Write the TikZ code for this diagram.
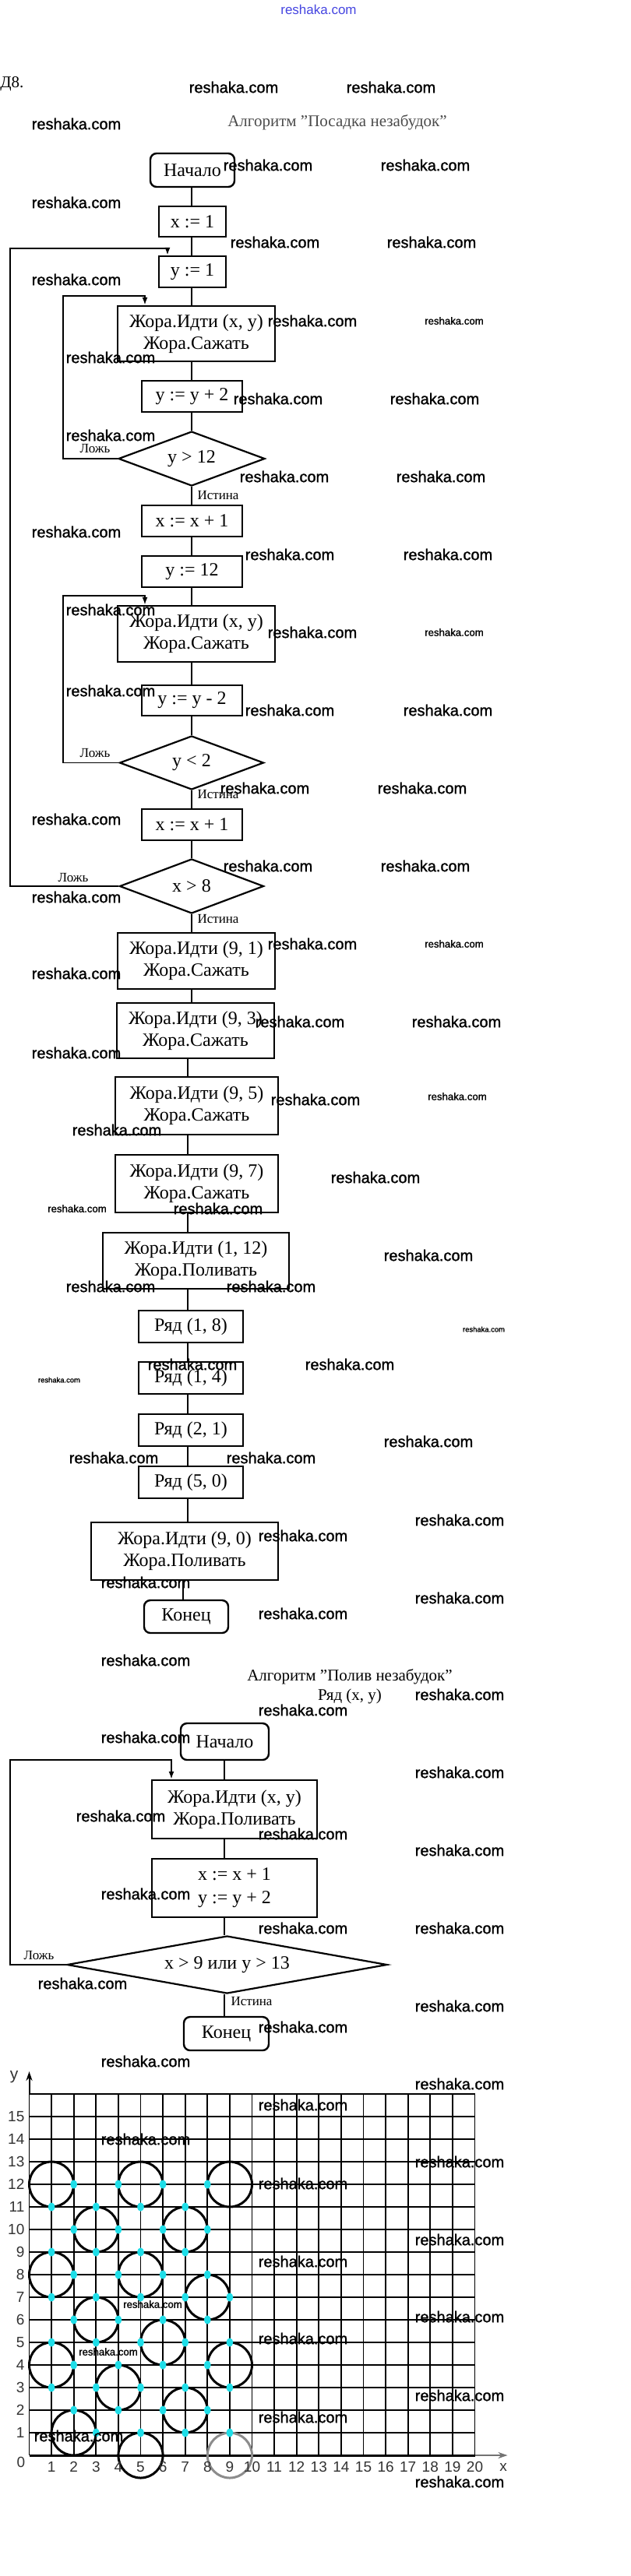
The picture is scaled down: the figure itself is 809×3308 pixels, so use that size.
\documentclass[tikz,border=0pt]{standalone}
\usepackage{fontspec}
\setmainfont{Liberation Serif}
\newfontfamily\wmfont[FakeBold=1.2]{Liberation Sans}
\newfontfamily\gfont{Liberation Sans}
\usetikzlibrary{shapes.geometric,arrows.meta}
\newcommand\pxu{*0.5pt}
\definecolor{wetc}{RGB}{30,222,232}
\definecolor{wmblue}{RGB}{70,70,225}
\begin{document}
\begin{tikzpicture}[x=0.5pt,y=-0.5pt,
 sz/.style 2 args={minimum width=#1\pxu,minimum height=#2\pxu},
 box/.style={draw,line width=1.2pt,inner sep=0pt,align=center,font=\fontsize{12}{14}\selectfont},
 term/.style={box,rounded corners=4pt},
 dec/.style={draw,diamond,line width=1.1pt,inner sep=0pt,font=\fontsize{12}{14}\selectfont},
 lbl/.style={inner sep=0pt,font=\fontsize{8.5}{10}\selectfont},
 conn/.style={line width=0.9pt},
 loopar/.style={line width=0.9pt,-{Latex[length=5pt,width=3.5pt]}},
 wm/.style={inner sep=0pt,font=\wmfont\fontsize{10}{12}\selectfont},
 wms/.style={inner sep=0pt,font=\wmfont\fontsize{6.6}{8}\selectfont},
 wmt/.style={inner sep=0pt,font=\wmfont\fontsize{4.7}{6}\selectfont},
 ttl/.style={inner sep=0pt,font=\fontsize{10.5}{12}\selectfont},
 glab/.style={inner sep=0pt,font=\gfont\fontsize{9.5}{11}\selectfont,text=black!80},
 gline/.style={line width=0.9pt},
 flower/.style={line width=1.5pt}]
\useasboundingbox (0,0) rectangle (809,3308);
\fill[white] (0,0) rectangle (809,3308);

% headings
\node[inner sep=0pt,font=\gfont\fontsize{8.5}{10}\selectfont,text=wmblue] (top) at (409,12) {reshaka.com};
\node[ttl,anchor=west] (hd8) at (0,108) {Д8.};
\node[ttl,text=black!70] (hd1) at (433,157) {Алгоритм "Посадка незабудок"};

% first chart
\node[term,sz={108}{43}] (s1) at (247,218.5) {Начало};
\node[box,sz={86}{39}] (x1) at (247,284.5) {x := 1};
\node[box,sz={86}{40}] (y1) at (247,349) {y := 1};
\node[box,sz={202}{71}] (g1) at (252,428.5) {Жора.Идти (x, y)\\Жора.Сажать};
\node[box,sz={129}{40}] (yp) at (246.5,509) {y := y + 2};
\node[dec,aspect=2.7,sz={188}{70}] (d1) at (246,589) {y > 12};
\node[box,sz={129}{40}] (xa) at (246.5,669) {x := x + 1};
\node[box,sz={129}{40}] (yt) at (246.5,734) {y := 12};
\node[box,sz={202}{72}] (g2) at (252,814) {Жора.Идти (x, y)\\Жора.Сажать};
\node[box,sz={129}{39}] (ym) at (246.5,899.5) {y := y - 2};
\node[dec,aspect=2.7,sz={185}{69}] (d2) at (246,979.5) {y < 2};
\node[box,sz={129}{40}] (xb) at (246.5,1059) {x := x + 1};
\node[dec,aspect=2.7,sz={185}{70}] (d3) at (246,1138) {x > 8};
\node[box,sz={202}{72}] (p1) at (252,1234) {Жора.Идти (9, 1)\\Жора.Сажать};
\node[box,sz={202}{71}] (p3) at (251,1323.5) {Жора.Идти (9, 3)\\Жора.Сажать};
\node[box,sz={209}{74}] (p5) at (252.5,1420) {Жора.Идти (9, 5)\\Жора.Сажать};
\node[box,sz={209}{74}] (p7) at (252.5,1520) {Жора.Идти (9, 7)\\Жора.Сажать};
\node[box,sz={239}{72}] (w1) at (251.5,1619) {Жора.Идти (1, 12)\\Жора.Поливать};
\node[box,sz={134}{41}] (r1) at (245,1703.5) {Ряд (1, 8)};
\node[box,sz={134}{41}] (r2) at (245,1769.5) {Ряд (1, 4)};
\node[box,sz={134}{41}] (r3) at (245,1836.5) {Ряд (2, 1)};
\node[box,sz={134}{41}] (r4) at (245,1903.5) {Ряд (5, 0)};
\node[box,sz={240}{74}] (w2) at (237,1992) {Жора.Идти (9, 0)\\Жора.Поливать};
\node[term,sz={108}{42}] (e1) at (239,2076) {Конец};

% second chart
\node[ttl] (hd2) at (449,2153) {Алгоритм "Полив незабудок"};
\node[ttl] (hd3) at (449,2178) {Ряд (x, y)};
\node[term,sz={113}{47}] (s2) at (288.5,2236.5) {Начало};
\node[box,sz={212}{75}] (q1) at (301,2323.5) {Жора.Идти (x, y)\\Жора.Поливать};
\node[box,sz={212}{75},font=\fontsize{12}{15}\selectfont] (q2) at (301,2424.5) {x := x + 1\\y := y + 2};
\node[dec,aspect=5.5,sz={411}{74}] (d4) at (291.5,2523) {x > 9 или y > 13};
\node[term,sz={109}{43}] (e2) at (290.5,2611.5) {Конец};

% connectors
\coordinate (m1) at (246,0); \coordinate (m2) at (241,0);
\coordinate (m3) at (235,0); \coordinate (m4) at (288,0);
\foreach \a/\b in {s1/x1,x1/y1,y1/g1,g1/yp,yp/d1,d1/xa,xa/yt,yt/g2,g2/ym,ym/d2,d2/xb,xb/d3,d3/p1,p1/p3}
  \draw[conn] (\a.south -| m1) -- (\b.north -| m1);
\foreach \a/\b in {p3/p5,p5/p7,p7/w1,w1/r1,r1/r2,r2/r3,r3/r4,r4/w2}
  \draw[conn] (\a.south -| m2) -- (\b.north -| m2);
\draw[conn] (w2.south -| m3) -- (e1.north -| m3);
\foreach \a/\b in {s2/q1,q1/q2,q2/d4,d4/e2}
  \draw[conn] (\a.south -| m4) -- (\b.north -| m4);

\coordinate (t0) at (13,319); \coordinate (t1) at (81,380);
\coordinate (t2) at (81,765); \coordinate (t3) at (13,2260);
\coordinate (a0) at (215,0); \coordinate (a1) at (186,0); \coordinate (a3) at (220,0);
\draw[loopar] (d1.west) -| (t1) -| (g1.north -| a1);
\draw[loopar] (d2.west) -| (t2) -| (g2.north -| a1);
\draw[loopar] (d3.west) -| (t0) -| (y1.north -| a0);
\draw[loopar] (d4.west) -| (t3) -| (q1.north -| a3);

\node[lbl] (f1) at (122,576) {Ложь};
\node[lbl] (f2) at (122,967) {Ложь};
\node[lbl] (f3) at (94,1127) {Ложь};
\node[lbl] (f4) at (50,2511) {Ложь};
\node[lbl] (i1) at (280,636) {Истина};
\node[lbl] (i2) at (280,1020) {Истина};
\node[lbl] (i3) at (280,1180) {Истина};
\node[lbl] (i4) at (323,2570) {Истина};

% grid
\begin{scope}[shift={(37.5,3153)},x=14.3pt,y=14.5pt]
 \foreach \i in {0,...,20} \draw[gline] (\i,0) -- (\i,16);
 \foreach \j in {1,...,16} \draw[gline] (0,\j) -- (20,\j);
 \draw[line width=1.5pt] (0,0) -- (20,0);
 \draw[line width=1pt,black!55,-{Stealth[length=6pt,width=4pt]}] (20,0) -- (21.47,0);
 \draw[line width=1pt,-{Stealth[length=6pt,width=4pt]}] (0,16) -- (0,17);
 \foreach \cx/\cy in {1/12,5/12,9/12,3/10,7/10,1/8,5/8,8/7,3/6,6/5,1/4,9/4,4/3,7/2,2/1,5/0}
   \draw[flower] (\cx,\cy) circle[radius=1];
 \draw[flower,black!45] (9,0) circle[radius=1];
 \foreach \xx/\yy in {2/12,4/12,6/12,8/12,1/11,3/11,5/11,7/11,2/10,4/10,6/10,8/10,
   1/9,3/9,5/9,7/9,2/8,4/8,6/8,8/8,1/7,3/7,5/7,7/7,9/7,2/6,4/6,6/6,8/6,
   1/5,3/5,5/5,7/5,9/5,2/4,4/4,6/4,8/4,1/3,3/3,5/3,7/3,9/3,2/2,4/2,6/2,8/2,3/1,5/1,7/1,9/1}
   \fill[wetc] (\xx,\yy) ellipse[x radius=2.2pt,y radius=2.8pt];
 \foreach \j in {1,...,15} \node[glab,anchor=east] (yl\j) at (-0.2,\j) {\j};
 \node[glab] (yl0) at (-0.37,-0.31) {0};
 \foreach \i in {1,...,20} \node[glab] (xl\i) at (\i,-0.52) {\i};
 \node[glab] (xlx) at (21.28,-0.52) {x};
 \node[glab,font=\gfont\fontsize{10.5}{12}\selectfont] (yly) at (-0.68,16.76) {y};
\end{scope}

% watermarks
\foreach \x/\y [count=\i] in {300/112,502/112,98/159,344/212,546/212,98/260,353/311,554/311,98/359,401/412,
 142/459,357/512,558/512,142/559,365/612,566/612,98/683,372/712,575/712,142/783,401/812,
 142/887,372/912,575/912,340/1012,542/1012,98/1052,344/1112,546/1112,98/1152,401/1212,
 98/1250,385/1312,586/1312,98/1352,405/1412,150/1451,482/1512,280/1552,550/1612,
 142/1652,348/1652,247/1752,449/1752,550/1851,146/1872,348/1872,590/1952,389/1972,
 187/2032,590/2052,389/2072,187/2132,590/2176,389/2196,187/2231,590/2276,155/2332,389/2355,590/2376,
 187/2432,389/2476,590/2476,106/2547,590/2576,389/2603,187/2647,590/2676,
 389/2703,187/2747,590/2776,389/2804,590/2876,389/2904,590/2975,389/3003,590/3076,389/3104,101/3128,590/3187}
 \node[wm] (wm\i) at (\x,\y) {reshaka.com};
\foreach \x/\y [count=\i] in {583/412,583/812,583/1212,587/1408,99/1552,196/2959,139/3020}
 \node[wms] (ws\i) at (\x,\y) {reshaka.com};
\foreach \x/\y [count=\i] in {621/1707,76/1772}
 \node[wmt] (wt\i) at (\x,\y) {reshaka.com};
\end{tikzpicture}
\end{document}
